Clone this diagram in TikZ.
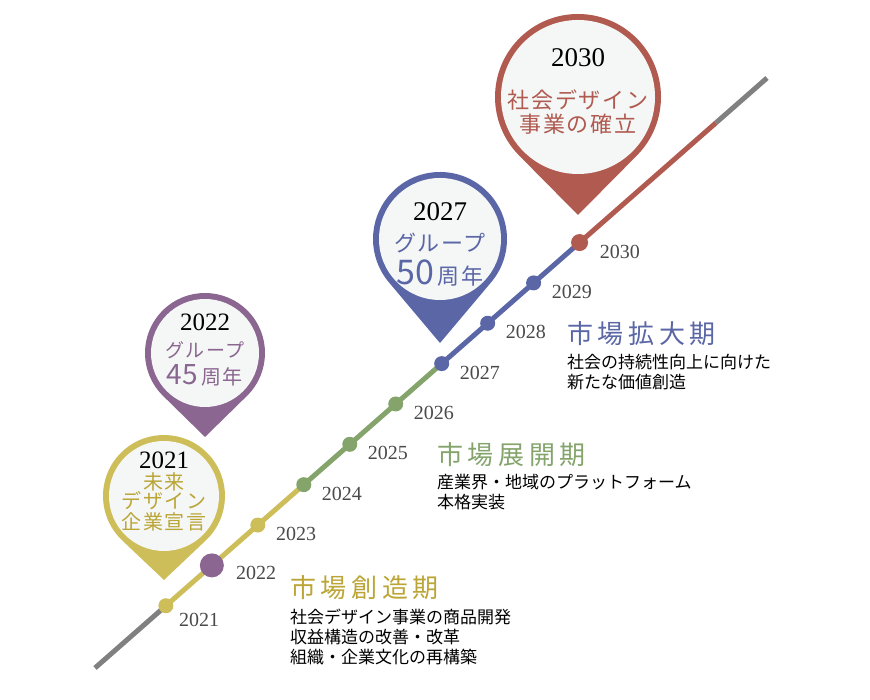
\documentclass[tikz,border=0pt]{standalone}
\usepackage{fontspec}
\setmainfont{Liberation Serif}
\newfontfamily\jp{Noto Sans CJK JP}
\newfontfamily\jppin[LetterSpace=8]{Noto Sans CJK JP}
\newfontfamily\jphead[LetterSpace=18]{Noto Sans CJK JP}
\usetikzlibrary{calc,positioning}
\definecolor{redpin}{HTML}{B05A50}
\definecolor{bluepin}{HTML}{5A66A6}
\definecolor{purplepin}{HTML}{8A6690}
\definecolor{yellowpin}{HTML}{CDBE5A}
\definecolor{yellowtext}{HTML}{BAA536}
\definecolor{greenline}{HTML}{84A46C}
\definecolor{grayline}{HTML}{808080}
\definecolor{yeargray}{HTML}{4A4A4A}
\definecolor{pinfill}{HTML}{F5F7F6}
% #1 centre, #2 radius, #3 colour, #4 distance of the tip below the centre
\newcommand{\drawpin}[4]{%
  \fill[#3] ($(#1)+(0,-#4)$) -- ($(#1)+({-90+acos(#2/#4)}:#2)$)
    arc[start angle={-90+acos(#2/#4)}, end angle={270-acos(#2/#4)}, radius=#2] -- cycle;
  \fill[pinfill] (#1) circle[radius=#2-6];
}

\begin{document}
\begin{tikzpicture}[x=1pt,y=1pt]
  \tikzstyle{every node}=[inner sep=0pt]
  \tikzstyle{yeardot}=[circle,inner sep=0pt,minimum size=15pt]
  \tikzstyle{yearlabel}=[anchor=west,text=yeargray,font=\fontsize{20}{24}\selectfont]
  \tikzstyle{pinyear}=[font=\fontsize{27}{30}\selectfont]
  \tikzstyle{pintext}=[font=\jppin\fontsize{22}{26}\selectfont]
  \tikzstyle{phasehead}=[anchor=north west,font=\jphead\fontsize{26}{30}\selectfont]
  \tikzstyle{phasetext}=[anchor=north west,align=left,font=\jp\fontsize{17}{20}\selectfont]

  \useasboundingbox (0,0) rectangle (870,700);

  % time line
  \path (95,32) coordinate (start) -- (767,622) coordinate (end)
      coordinate[pos=0.1055] (t2021)
      coordinate[pos=0.1739] (t2022)
      coordinate[pos=0.2423] (t2023)
      coordinate[pos=0.3107] (t2024)
      coordinate[pos=0.3791] (t2025)
      coordinate[pos=0.4475] (t2026)
      coordinate[pos=0.5159] (t2027)
      coordinate[pos=0.5843] (t2028)
      coordinate[pos=0.6527] (t2029)
      coordinate[pos=0.7211] (t2030)
      coordinate[pos=0.9240] (redend);

  \draw[line width=5pt, grayline] (start) -- (t2021);
  \draw[line width=5pt, yellowpin] (t2021) -- (t2024);
  \draw[line width=5pt, greenline] (t2024) -- (t2027);
  \draw[line width=5pt, bluepin] (t2027) -- (t2030);
  \draw[line width=5pt, redpin] (t2030) -- (redend);
  \draw[line width=5pt, grayline] (redend) -- (end);

  \node[yeardot,fill=yellowpin] (d2021) at (t2021) {};
  \node[yeardot,fill=purplepin,minimum size=24pt] (d2022) at (t2022) {};
  \node[yeardot,fill=yellowpin] (d2023) at (t2023) {};
  \node[yeardot,fill=greenline] (d2024) at (t2024) {};
  \node[yeardot,fill=greenline] (d2025) at (t2025) {};
  \node[yeardot,fill=greenline] (d2026) at (t2026) {};
  \node[yeardot,fill=bluepin] (d2027) at (t2027) {};
  \node[yeardot,fill=bluepin] (d2028) at (t2028) {};
  \node[yeardot,fill=bluepin] (d2029) at (t2029) {};
  \node[yeardot,fill=redpin,minimum size=17pt] (d2030) at (t2030) {};

  \node[yearlabel] (l2021) at ($(d2021)+(13,-14)$) {2021};
  \node[yearlabel] (l2022) at ($(d2022)+(24,-8)$) {2022};
  \node[yearlabel] (l2023) at ($(d2023)+(18,-9)$) {2023};
  \node[yearlabel] (l2024) at ($(d2024)+(18,-9)$) {2024};
  \node[yearlabel] (l2025) at ($(d2025)+(18,-9)$) {2025};
  \node[yearlabel] (l2026) at ($(d2026)+(18,-9)$) {2026};
  \node[yearlabel] (l2027) at ($(d2027)+(18,-9)$) {2027};
  \node[yearlabel] (l2028) at ($(d2028)+(18,-9)$) {2028};
  \node[yearlabel] (l2029) at ($(d2029)+(18,-9)$) {2029};
  \node[yearlabel] (l2030) at ($(d2030)+(20,-9)$) {2030};

  % pins
  \drawpin{578,603}{83}{redpin}{118}
  \node[pinyear] (p2030) at (578,642) {2030};
  \node[pintext,text=redpin] (p2030a) at (578,600) {社会デザイン};
  \node[pintext,text=redpin] (p2030b) at (578,576) {事業の確立};

  \drawpin{440,461}{67}{bluepin}{104}
  \node[pinyear] (p2027) at (440,488) {2027};
  \node[pintext,text=bluepin] (p2027a) at (440,457) {グループ};
  \node[pintext,text=bluepin] (p2027b) at (440,427) {{\jp\fontsize{34}{34}\selectfont 50}\,周年};

  \drawpin{205,347}{60}{purplepin}{84}
  \node[pinyear,font=\fontsize{25}{28}\selectfont] (p2022) at (205,378) {2022};
  \node[pintext,text=purplepin,font=\jppin\fontsize{19}{22}\selectfont] (p2022a) at (205,350) {グループ};
  \node[pintext,text=purplepin,font=\jppin\fontsize{20}{22}\selectfont] (p2022b) at (205,325) {{\jp\fontsize{28}{28}\selectfont 45}\,周年};

  \drawpin{164,204}{61}{yellowpin}{84}
  \node[pinyear,font=\fontsize{25}{28}\selectfont] (p2021) at (164,240) {2021};
  \node[pintext,text=yellowtext,font=\jppin\fontsize{20}{22}\selectfont] (p2021a) at (164,218) {未来};
  \node[pintext,text=yellowtext,font=\jppin\fontsize{20}{22}\selectfont] (p2021b) at (164,199) {デザイン};
  \node[pintext,text=yellowtext,font=\jppin\fontsize{20}{22}\selectfont] (p2021c) at (164,178) {企業宣言};

  % phases
  \node[phasehead,text=bluepin] (headexp) at (567,379) {市場拡大期};
  \node[phasetext] (textexp) at (567,346) {社会の持続性向上に向けた\\新たな価値創造};

  \node[phasehead,text=greenline] (headdev) at (437,258) {市場展開期};
  \node[phasetext] (textdev) at (437,226) {産業界・地域のプラットフォーム\\本格実装};

  \node[phasehead,text=yellowtext] (headcre) at (290,125) {市場創造期};
  \node[phasetext] (textcre) at (290,91) {社会デザイン事業の商品開発\\収益構造の改善・改革\\組織・企業文化の再構築};
\end{tikzpicture}
\end{document}
